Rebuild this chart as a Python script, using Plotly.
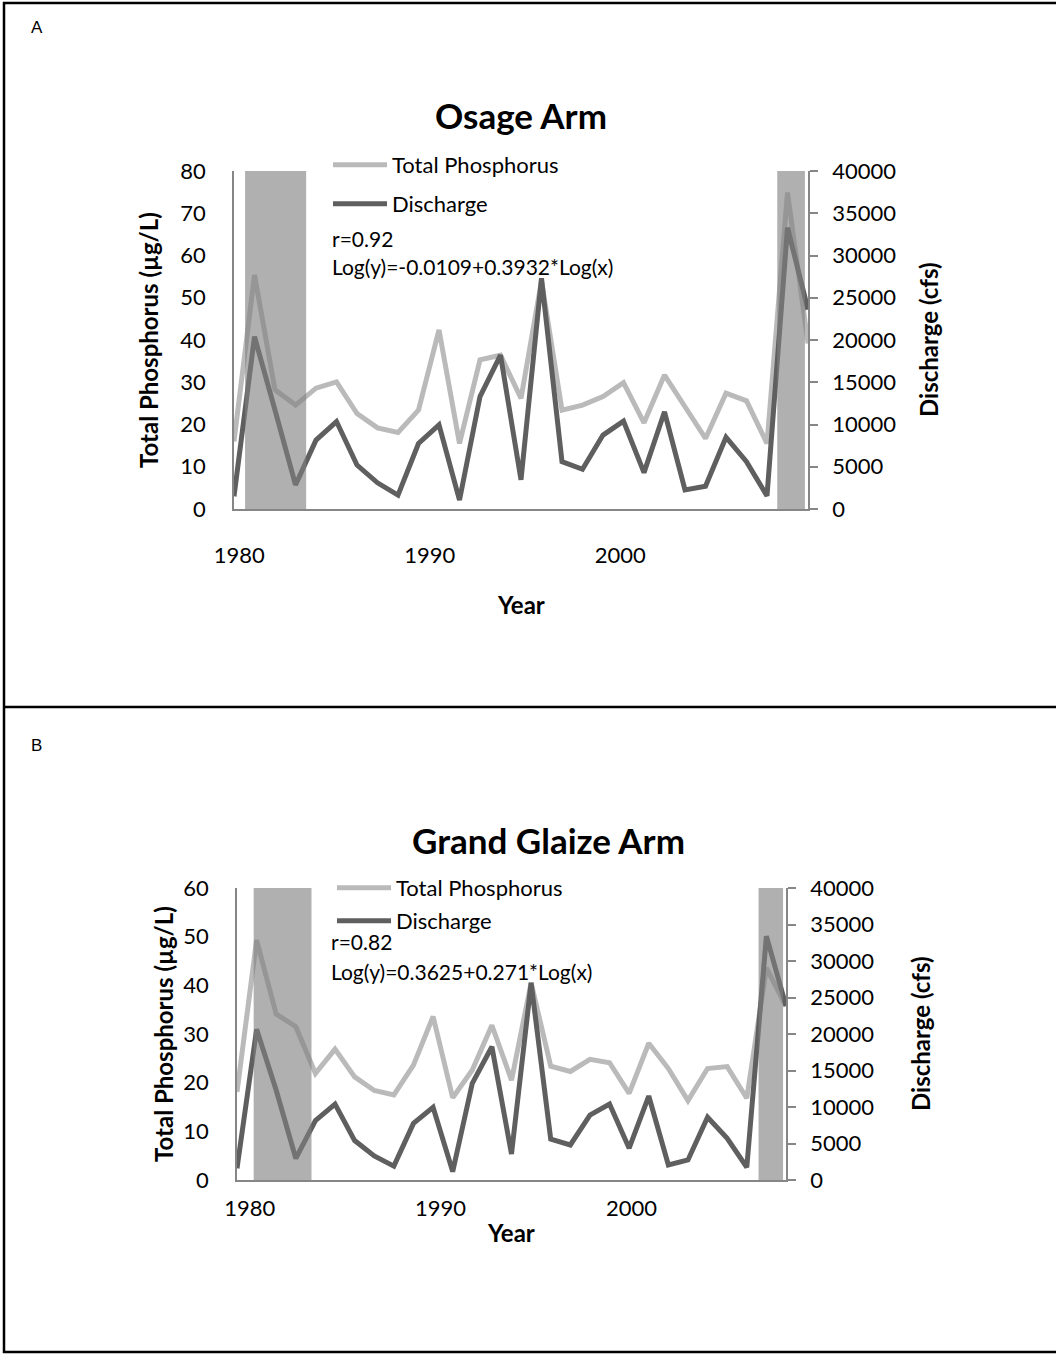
import plotly.graph_objects as go

# ---------------- data ----------------
years = list(range(1980, 2009))

tp_osage = [16.0, 55.4, 28.2, 24.6, 28.6, 30.1, 22.6, 19.2, 18.1, 23.4, 42.4, 15.5, 35.3, 36.4,
            26.2, 54.0, 23.4, 24.6, 26.6, 29.9, 20.4, 31.7, 24.2, 16.7, 27.4, 25.6, 15.5, 74.9, 39.2]
q_osage = [1500, 20400, 11700, 2850, 8150, 10350, 5200, 3100, 1650, 7750, 9950, 1050, 13300, 18200,
           3450, 27300, 5600, 4700, 8750, 10400, 4300, 11500, 2250, 2700, 8500, 5600, 1550, 33300, 23600]

tp_glaize = [18.1, 49.3, 34.1, 31.5, 21.9, 26.9, 21.2, 18.4, 17.5, 23.6, 33.6, 16.9, 22.6, 31.8,
             20.5, 40.5, 23.4, 22.3, 24.8, 24.1, 17.8, 28.1, 22.9, 16.3, 22.9, 23.3, 16.8, 43.6, 35.7]
q_glaize = [1600, 20650, 12300, 2950, 8150, 10400, 5400, 3300, 1900, 7750, 9950, 1150, 13250, 18250,
            3550, 27000, 5600, 4800, 8900, 10400, 4350, 11500, 2050, 2750, 8600, 5700, 1750, 33400, 23850]

# shaded periods (start, end) in years
shade_osage = [(1980.54, 1983.52), (2006.5, 2007.85)]
shade_glaize = [(1980.85, 1983.8), (2006.6, 2007.85)]

year_labels = ["1980", "1990", "2000"]
tick_pos_osage = [1980.26, 1989.55, 1998.84]
tick_pos_glaize = [1980.65, 1990.38, 2000.12]

titles = ["Osage Arm", "Grand Glaize Arm"]
stats_osage = ["r=0.92", "Log(y)=-0.0109+0.3932*Log(x)"]
stats_glaize = ["r=0.82", "Log(y)=0.3625+0.271*Log(x)"]

# ---------------- layout helpers ----------------
W, H = 1056, 1371
FONT = "Lato, 'Open Sans', sans-serif"
TP_COLOR = "#bababa"
Q_COLOR = "#5f5f5f"
AX_COLOR = "#868686"


def px(x):
    return x / W


def py(y):
    return 1 - y / H


fig = go.Figure()

# Panel A traces
fig.add_trace(go.Scatter(x=years, y=tp_osage, mode="lines", name="Total Phosphorus",
                         line=dict(color=TP_COLOR, width=5), xaxis="x", yaxis="y", legend="legend"))
fig.add_trace(go.Scatter(x=years, y=q_osage, mode="lines", name="Discharge",
                         line=dict(color=Q_COLOR, width=5), xaxis="x", yaxis="y2", legend="legend2"))
# Panel B traces
fig.add_trace(go.Scatter(x=years, y=tp_glaize, mode="lines", name="Total Phosphorus",
                         line=dict(color=TP_COLOR, width=5), xaxis="x2", yaxis="y3", legend="legend3"))
fig.add_trace(go.Scatter(x=years, y=q_glaize, mode="lines", name="Discharge",
                         line=dict(color=Q_COLOR, width=5), xaxis="x2", yaxis="y4", legend="legend4"))

tickfont = dict(family=FONT, size=22, color="black")

xcommon = dict(range=[1980, 2008], showline=True, linecolor=AX_COLOR, linewidth=1.5,
               showgrid=False, zeroline=False, ticks="", tickfont=tickfont, ticktext=year_labels,
               tickmode="array", automargin=False)
ycommon_left = dict(showline=True, linecolor=AX_COLOR, linewidth=1.5, showgrid=False,
                    zeroline=False, ticks="", tickfont=tickfont, ticklabelstandoff=22,
                    automargin=False)
ycommon_right = dict(showline=True, linecolor=AX_COLOR, linewidth=1.5, showgrid=False,
                     zeroline=False, ticks="outside", ticklen=8, tickcolor=AX_COLOR, tickwidth=1.5,
                     tickfont=tickfont, ticklabelstandoff=10, side="right", range=[0, 40000],
                     dtick=5000, tickformat="d", automargin=False)

fig.update_layout(
    width=W, height=H, margin=dict(l=0, r=0, t=0, b=0, autoexpand=False),
    paper_bgcolor="white", plot_bgcolor="rgba(0,0,0,0)",
    font=dict(family=FONT, color="black"),
    showlegend=True,
    xaxis=dict(domain=[px(234), px(808)], anchor="y", tickvals=tick_pos_osage,
               ticklabelstandoff=26, **xcommon),
    yaxis=dict(domain=[py(509), py(171)], anchor="x", range=[0, 80], dtick=10, **ycommon_left),
    yaxis2=dict(overlaying="y", anchor="x", **ycommon_right),
    xaxis2=dict(domain=[px(237), px(786)], anchor="y3", tickvals=tick_pos_glaize,
                ticklabelstandoff=8, **xcommon),
    yaxis3=dict(domain=[py(1180), py(888)], anchor="x2", range=[0, 60], dtick=10, **ycommon_left),
    yaxis4=dict(overlaying="y3", anchor="x2", **ycommon_right),
)

leg_font = dict(family=FONT, size=22, color="black")
for name, (lx, ly) in {"legend": (328, 165), "legend2": (328, 204),
                       "legend3": (332, 888), "legend4": (332, 921)}.items():
    fig.update_layout(**{name: dict(x=px(lx), y=py(ly), xanchor="left", yanchor="middle",
                                    font=leg_font, bgcolor="rgba(0,0,0,0)", borderwidth=0,
                                    itemwidth=54, visible=True)})

# shaded periods
for (x0, x1) in shade_osage:
    fig.add_shape(type="rect", xref="x", yref="y", x0=x0, x1=x1, y0=0, y1=80,
                  fillcolor="rgba(128,128,128,0.62)", line=dict(width=0), layer="above")
for (x0, x1) in shade_glaize:
    fig.add_shape(type="rect", xref="x2", yref="y3", x0=x0, x1=x1, y0=0, y1=60,
                  fillcolor="rgba(128,128,128,0.62)", line=dict(width=0), layer="above")

# panel borders
fig.add_shape(type="rect", xref="paper", yref="paper", x0=px(4), x1=px(1060), y0=py(1352), y1=py(3),
              line=dict(color="black", width=2.5), fillcolor="rgba(0,0,0,0)")
fig.add_shape(type="line", xref="paper", yref="paper", x0=px(4), x1=px(1060), y0=py(707), y1=py(707),
              line=dict(color="black", width=2.5))


def ann(text, x, y, size=22, bold=False, angle=0, xanchor="center", family=FONT):
    fig.add_annotation(text=f"<b>{text}</b>" if bold else text, x=px(x), y=py(y),
                       xref="paper", yref="paper", showarrow=False, textangle=angle,
                       xanchor=xanchor, yanchor="middle",
                       font=dict(family=family, size=size, color="black"))


# panel letters
ann("A", 29, 27, size=17, xanchor="left", family="'Liberation Sans Narrow', 'Liberation Sans', sans-serif")
ann("B", 29, 745, size=17, xanchor="left", family="'Liberation Sans Narrow', 'Liberation Sans', sans-serif")

# titles
ann(titles[0], 521, 115, size=35, bold=True)
ann(titles[1], 548, 840, size=35, bold=True)

# axis titles
ann("Total Phosphorus (µg/L)", 148, 340, size=24, bold=True, angle=-90)
ann("Discharge (cfs)", 928, 340, size=24, bold=True, angle=-90)
ann("Year", 521, 604, size=24, bold=True)
ann("Total Phosphorus (µg/L)", 163, 1034, size=24, bold=True, angle=-90)
ann("Discharge (cfs)", 920, 1034, size=24, bold=True, angle=-90)
ann("Year", 511, 1232, size=24, bold=True)

# stats text
ann(stats_osage[0], 330, 239, size=21, xanchor="left")
ann(stats_osage[1], 330, 267, size=21, xanchor="left")
ann(stats_glaize[0], 329, 942, size=21, xanchor="left")
ann(stats_glaize[1], 329, 971, size=21, xanchor="left")

fig.write_html("out.html")
